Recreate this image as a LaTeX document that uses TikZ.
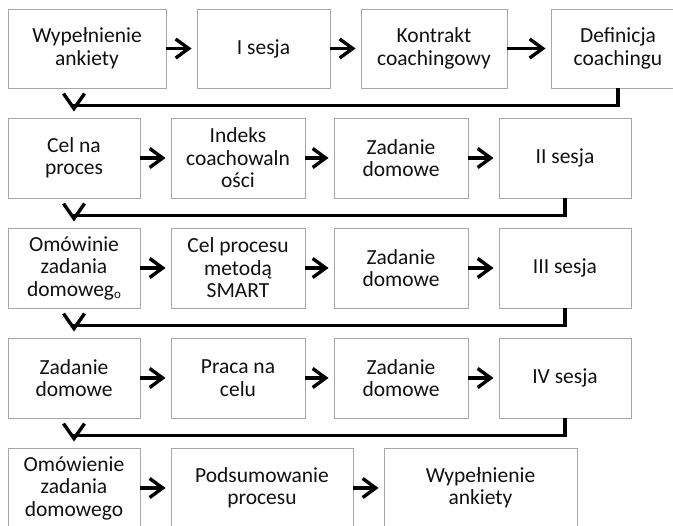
\documentclass[tikz,border=0pt]{standalone}
\usepackage{fontspec}
\setmainfont{Carlito}
\usetikzlibrary{arrows.meta}
\definecolor{boxline}{HTML}{A6A6A6}
\definecolor{txt}{HTML}{111111}
\tikzset{
  box/.style={draw=boxline, line width=0.9pt, fill=white, rectangle, align=center,
    text=txt, inner sep=2pt, minimum height=80pt,
    font=\fontsize{21.5}{22.5}\selectfont},
  conn/.style={line width=3.4pt, black},
  arr/.style={conn, -{Straight Barb[length=13pt,width=19pt]}, shorten >=5pt},
  turn/.style={conn, -{Straight Barb[length=15pt,width=21pt]}, shorten >=6pt}
}
\begin{document}
\begin{tikzpicture}[x=1pt,y=-1pt]
\useasboundingbox (0,0) rectangle (673,526);
\clip (0,0) rectangle (673,526);
% row 1
\node[box, minimum width=158pt, minimum height=79pt] (A1) at (87,48.5) {Wypełnienie\\ankiety};
\node[box, minimum width=133pt, minimum height=79pt] (B1) at (263.5,48.5) {I sesja};
\node[box, minimum width=146pt, minimum height=79pt] (C1) at (434,48.5) {Kontrakt\\coachingowy};
\node[box, minimum width=134pt, minimum height=79pt] (D1) at (618,48.5) {Definicja\\coachingu};
% row 2
\node[box, minimum width=132pt] (A2) at (74,158) {Cel na\\proces};
\node[box, minimum width=134pt] (B2) at (238,158) {Indeks\\coachowaln\\ości};
\node[box, minimum width=134pt] (C2) at (401,158) {Zadanie\\domowe};
\node[box, minimum width=132pt] (D2) at (565,158) {II sesja};
% row 3
\node[box, minimum width=132pt] (A3) at (74,268) {Omówinie\\zadania\\domoweg\raisebox{-2pt}{\fontsize{13}{13}\selectfont o}};
\node[box, minimum width=134pt] (B3) at (238,268) {Cel procesu\\metodą\\SMART};
\node[box, minimum width=134pt] (C3) at (401,268) {Zadanie\\domowe};
\node[box, minimum width=132pt] (D3) at (565,268) {III sesja};
% row 4
\node[box, minimum width=132pt] (A4) at (74,378) {Zadanie\\domowe};
\node[box, minimum width=134pt] (B4) at (238,378) {Praca na\\celu};
\node[box, minimum width=134pt] (C4) at (401,378) {Zadanie\\domowe};
\node[box, minimum width=132pt] (D4) at (565,378) {IV sesja};
% row 5
\node[box, minimum width=132pt] (A5) at (74,488) {Omówienie\\zadania\\domowego};
\node[box, minimum width=182pt] (B5) at (262,488) {Podsumowanie\\procesu};
\node[box, minimum width=193pt] (C5) at (480.5,488) {Wypełnienie\\ankiety};
% horizontal arrows
\draw[arr] (A1) -- (B1);
\draw[arr] (B1) -- (C1);
\draw[arr] (C1) -- (D1);
\draw[arr] (A2) -- (B2);
\draw[arr] (B2) -- (C2);
\draw[arr] (C2) -- (D2);
\draw[arr] (A3) -- (B3);
\draw[arr] (B3) -- (C3);
\draw[arr] (C3) -- (D3);
\draw[arr] (A4) -- (B4);
\draw[arr] (B4) -- (C4);
\draw[arr] (C4) -- (D4);
\draw[arr] (A5) -- (B5);
\draw[arr] (B5) -- (C5);
% row turns
\draw[turn] (D1.south) -- ++(0,17) -| (A2.north);
\draw[turn] (D2.south) -- ++(0,17) -| (A3.north);
\draw[turn] (D3.south) -- ++(0,17) -| (A4.north);
\draw[turn] (D4.south) -- ++(0,17) -| (A5.north);
\end{tikzpicture}
\end{document}
